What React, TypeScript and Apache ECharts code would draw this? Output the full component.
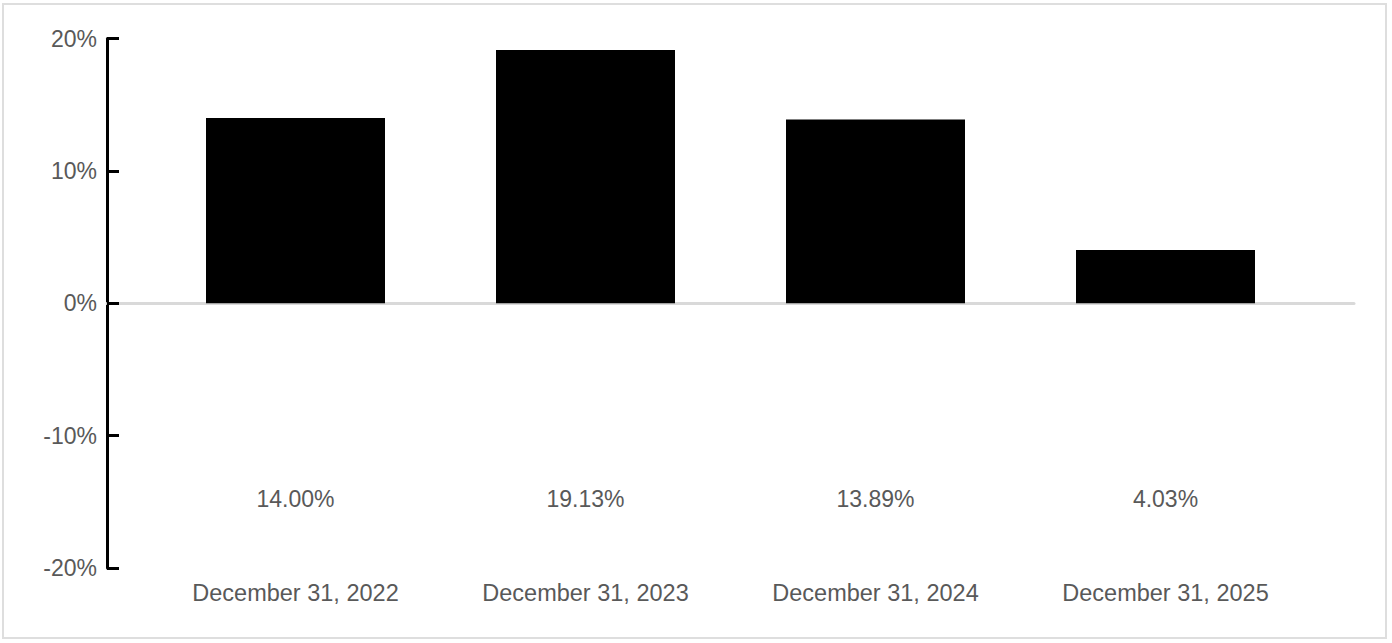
import React, { useEffect, useRef } from "react";
import * as echarts from "echarts";

const categories = ["December 31, 2022", "December 31, 2023", "December 31, 2024", "December 31, 2025"];
const returns = [14.0, 19.13, 13.89, 4.03];
const yMin = -20;
const yMax = 20;
const yStep = 10;

const FONT = "'Liberation Sans', Arial, sans-serif";
const TEXT = "#595959";

export default function App() {
  const ref = useRef<HTMLDivElement>(null);
  useEffect(() => {
    if (!ref.current) return;
    const chart = echarts.init(ref.current, undefined, { renderer: "svg" });
    chart.setOption({
      animation: false,
      backgroundColor: "#ffffff",
      textStyle: { fontFamily: FONT },
      graphic: [
        {
          type: "rect",
          shape: { x: 3, y: 4, width: 1383, height: 634 },
          style: { fill: "none", stroke: "#dedede", lineWidth: 2 },
          silent: true,
        },
      ],
      grid: [
        { left: 107, right: 38, top: 38.5, bottom: 75 },
        { left: 150.5, right: 81.5, top: 38.5, bottom: 75 },
      ],
      xAxis: [
        {
          gridIndex: 0,
          type: "value",
          min: 0,
          max: 1,
          axisLine: { show: true, onZero: true, lineStyle: { color: "#d9d9d9", width: 3 } },
          axisTick: { show: false },
          axisLabel: { show: false },
          splitLine: { show: false },
        },
        {
          gridIndex: 1,
          type: "category",
          data: categories,
          axisLine: { show: false, onZero: false },
          axisTick: { show: false },
          axisLabel: { fontSize: 23.5, color: TEXT, margin: 13, fontFamily: FONT },
          splitLine: { show: false },
        },
      ],
      yAxis: [
        {
          gridIndex: 0,
          type: "value",
          min: yMin,
          max: yMax,
          interval: yStep,
          axisLine: { show: true, lineStyle: { color: "#000", width: 3 } },
          axisTick: { show: true, inside: true, length: 12, lineStyle: { color: "#000", width: 3 } },
          axisLabel: { formatter: "{value}%", fontSize: 23, color: TEXT, margin: 10, fontFamily: FONT },
          splitLine: { show: false },
        },
        {
          gridIndex: 1,
          type: "value",
          min: yMin,
          max: yMax,
          interval: yStep,
          show: false,
          splitLine: { show: false },
        },
      ],
      series: [
        {
          type: "bar",
          xAxisIndex: 1,
          yAxisIndex: 1,
          data: returns,
          barWidth: 179,
          itemStyle: { color: "#000" },
          label: {
            show: true,
            position: "bottom",
            distance: 184,
            fontSize: 23,
            color: TEXT,
            fontFamily: FONT,
            formatter: (p: any) => `${Number(p.value).toFixed(2)}%`,
          },
        },
      ],
    });
    return () => chart.dispose();
  }, []);
  return <div ref={ref} style={{ position: "fixed", left: 0, top: 0, width: 1392, height: 643 }} />;
}
